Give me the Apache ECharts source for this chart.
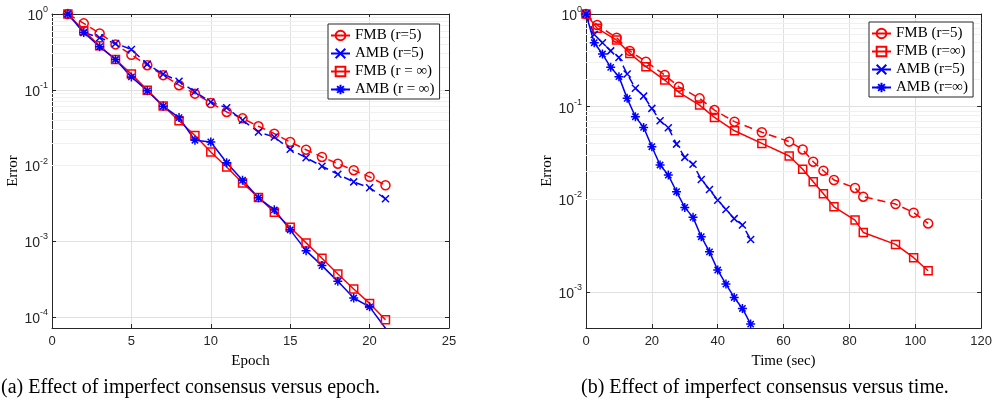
<!DOCTYPE html>
<html>
<head>
<meta charset="utf-8">
<script src="https://cdn.jsdelivr.net/npm/echarts@6/dist/echarts.min.js"></script>
<style>
html,body{margin:0;padding:0;background:#fff;}
#chart{width:995px;height:408px;}
</style>
</head>
<body>
<div id="chart"></div>
<script>
// ---------- data ----------
const epochs = [1,2,3,4,5,6,7,8,9,10,11,12,13,14,15,16,17,18,19,20,21];
const fmb5Left   = [1,0.753,0.555,0.397,0.29,0.211,0.156,0.115,0.089,0.067,0.051,0.042,0.033,0.0264,0.0205,0.0162,0.013,0.0106,0.0087,0.0071,0.0055];
const amb5Left   = [1,0.57,0.486,0.409,0.341,0.218,0.161,0.13,0.094,0.069,0.058,0.0396,0.0278,0.0238,0.0164,0.0127,0.0098,0.0077,0.0061,0.0051,0.00365];
const fmbInfLeft = [1,0.6,0.38,0.251,0.161,0.099,0.061,0.039,0.025,0.0151,0.0096,0.0059,0.0038,0.00243,0.00154,0.000955,0.000598,0.000371,0.000235,0.000152,0.0000924];
const ambInfLeft = [1,0.57,0.37,0.251,0.148,0.097,0.0607,0.043,0.0216,0.0205,0.0109,0.0064,0.00376,0.00261,0.00142,0.000755,0.000479,0.000297,0.000179,0.000137,0.0000716];

const fmbTimes    = [0,3.4,9.3,13.3,18.2,23.9,28.2,34.5,39.0,45.1,53.4,61.7,65.8,69.0,72.1,75.3,81.7,84.2,94.0,99.5,103.9];
const fmb5Right   = [1,0.76,0.555,0.40,0.306,0.22,0.164,0.123,0.092,0.069,0.053,0.042,0.0346,0.0255,0.0204,0.0162,0.0133,0.0107,0.0089,0.0072,0.0055];
const fmbInfRight = [1,0.70,0.524,0.376,0.27,0.194,0.143,0.104,0.0767,0.055,0.0402,0.0294,0.0211,0.0155,0.0115,0.00833,0.00598,0.0044,0.00327,0.00235,0.0017];
const ambTimes    = [0,2.5,5,7.5,10,12.5,15,17.5,20,22.5,25,27.5,30,32.5,35,37.5,40,42.5,45,47.5,50];
const amb5Right   = [1,0.6,0.49,0.40,0.34,0.225,0.158,0.13,0.096,0.0706,0.0593,0.0395,0.0284,0.024,0.0164,0.0128,0.0098,0.0078,0.0062,0.0053,0.0037];
const ambInfRight = [1,0.49,0.37,0.266,0.211,0.123,0.078,0.0598,0.037,0.0235,0.0183,0.0121,0.0082,0.0064,0.00396,0.00272,0.00173,0.00122,0.000875,0.000666,0.000452];

const leftLegend  = ['FMB (r=5)','AMB (r=5)','FMB (r = \u221e)','AMB (r = \u221e)'];
const rightLegend = ['FMB (r=5)','FMB (r=\u221e)','AMB (r=5)','AMB (r=\u221e)'];
const xTicksLeft  = {min:0,max:25,interval:5};
const xTicksRight = {min:0,max:120,interval:20};
const yRangeLeft  = {min:7.2e-5,max:1};
const yRangeRight = {min:4.1e-4,max:1};
const captions = ['(a) Effect of imperfect consensus versus epoch.','(b) Effect of imperfect consensus versus time.'];

// ---------- styles ----------
const RED = '#ff0000', BLUE = '#0000ff', AX = '#262626';
const SERIF = '"Liberation Serif","Times New Roman",serif';
const SANS = '"Liberation Sans",Arial,Helvetica,sans-serif';
const STAR = 'path://M5,0L5,10M0,5L10,5M1.5,1.5L8.5,8.5M8.5,1.5L1.5,8.5';
const CROSS = 'path://M0,0L10,10M10,0L0,10';

function minorValues(r){
  const out=[];
  for(let d=-6; d<=0; d++){
    for(let k=2;k<=9;k++){
      const v=k*Math.pow(10,d);
      if(v>r.min && v<r.max) out.push({yAxis:v});
    }
  }
  return out;
}

function supLabel(v){
  const e=Math.round(Math.log10(v));
  return '{b|10}{s|'+e+'}';
}

function xAxes(grid, t, name){
  return [{
    gridIndex:grid, type:'value', min:t.min, max:t.max, interval:t.interval, position:'bottom',
    axisLine:{show:true,onZero:false,lineStyle:{color:AX,width:1}},
    axisTick:{show:true,inside:true,length:4,lineStyle:{color:AX}},
    axisLabel:{color:AX,fontSize:13,fontFamily:SANS,margin:7},
    splitLine:{show:true,lineStyle:{color:'#e0e0e0',width:1}},
    name:name,nameLocation:'middle',nameGap:26,
    nameTextStyle:{fontFamily:SERIF,fontSize:15,color:'#000'}
  },{
    gridIndex:grid, type:'value', min:t.min, max:t.max, interval:t.interval, position:'top',
    axisLine:{show:true,onZero:false,lineStyle:{color:AX,width:1}},
    axisTick:{show:true,inside:true,length:4,lineStyle:{color:AX}},
    axisLabel:{show:false}, splitLine:{show:false}
  }];
}
function yAxes(grid, r, gap){
  return [{
    gridIndex:grid, type:'log', logBase:10, min:r.min, max:r.max, position:'left',
    axisLine:{show:true,onZero:false,lineStyle:{color:AX,width:1}},
    axisTick:{show:true,inside:true,length:4,lineStyle:{color:AX}},
    axisLabel:{showMinLabel:false,formatter:supLabel,margin:4,
      rich:{b:{fontSize:14,fontFamily:SANS,color:AX,lineHeight:18,verticalAlign:'bottom'},
            s:{fontSize:9,fontFamily:SANS,color:AX,lineHeight:18,verticalAlign:'top'}}},
    splitLine:{show:true,lineStyle:{color:'#e0e0e0',width:1}},
    name:'Error',nameLocation:'middle',nameGap:gap,
    nameTextStyle:{fontFamily:SERIF,fontSize:15,color:'#000'}
  },{
    gridIndex:grid, type:'log', logBase:10, min:r.min, max:r.max, position:'right',
    axisLine:{show:true,onZero:false,lineStyle:{color:AX,width:1}},
    axisTick:{show:true,inside:true,length:4,lineStyle:{color:AX}},
    axisLabel:{show:false}, splitLine:{show:false}
  }];
}

function mkSeries(name, xs, ys, xi, yi, color, symbol, size, dashed){
  return {
    name:name, type:'line', xAxisIndex:xi, yAxisIndex:yi,
    data: xs.map((x,i)=>[x,ys[i]]),
    symbol:symbol, symbolSize:size, showAllSymbol:true,
    lineStyle:{color:color,width:1.5,type:dashed?[8,5]:'solid'},
    itemStyle:{color:'rgba(255,255,255,0)',borderColor:color,borderWidth:1.5},
    emphasis:{disabled:true}, animation:false, z:3
  };
}

function gridLines(xi, yi, r){
  return {
    type:'line', xAxisIndex:xi, yAxisIndex:yi, data:[], silent:true, animation:false,
    markLine:{silent:true, symbol:'none', animation:false, z:1, label:{show:false},
      lineStyle:{color:'#f0f0f0',width:1,type:'solid'}, data:minorValues(r)}
  };
}

const chart = echarts.init(document.getElementById('chart'), null, {renderer:'canvas'});

const legendBase = {
  orient:'vertical', itemWidth:19, itemHeight:12, itemGap:1,
  backgroundColor:'#fff', borderColor:AX, borderWidth:1, borderRadius:0,
  padding:[3,5,1,2],
  textStyle:{fontFamily:SERIF,fontSize:15,color:'#000',lineHeight:17},
  lineStyle:{type:'solid'}, selectedMode:false
};

const option = {
  animation:false,
  backgroundColor:'#fff',
  grid:[
    {left:52, top:14, width:397, height:314, containLabel:false},
    {left:586, top:14, width:397, height:314, containLabel:false}
  ],
  xAxis:[...xAxes(0,xTicksLeft,'Epoch'), ...xAxes(1,xTicksRight,'Time (sec)')],
  yAxis:[...yAxes(0,yRangeLeft,31), ...yAxes(1,yRangeRight,30)],
  legend:[
    Object.assign({}, legendBase, {left:328, top:24, data:leftLegend}),
    Object.assign({}, legendBase, {left:869, top:22, data:rightLegend})
  ],
  series:[
    gridLines(0,0,yRangeLeft),
    gridLines(2,2,yRangeRight),
    mkSeries('FMB (r=5)', epochs, fmb5Left, 0,0, RED,'circle',9,true),
    mkSeries('AMB (r=5)', epochs, amb5Left, 0,0, BLUE,CROSS,7,true),
    mkSeries('FMB (r = \u221e)', epochs, fmbInfLeft, 0,0, RED,'rect',8,false),
    mkSeries('AMB (r = \u221e)', epochs, ambInfLeft, 0,0, BLUE,STAR,9,false),
    mkSeries('FMB (r=5)', fmbTimes, fmb5Right, 2,2, RED,'circle',9,true),
    mkSeries('FMB (r=\u221e)', fmbTimes, fmbInfRight, 2,2, RED,'rect',8,false),
    mkSeries('AMB (r=5)', ambTimes, amb5Right, 2,2, BLUE,CROSS,7,true),
    mkSeries('AMB (r=\u221e)', ambTimes, ambInfRight, 2,2, BLUE,STAR,9,false)
  ],
  graphic:[
    {type:'text', left:1, top:378, style:{text:captions[0], font:'20px '+SERIF, fill:'#000'}},
    {type:'text', left:581, top:378, style:{text:captions[1], font:'20px '+SERIF, fill:'#000'}}
  ]
};
chart.setOption(option);
</script>
</body>
</html>
